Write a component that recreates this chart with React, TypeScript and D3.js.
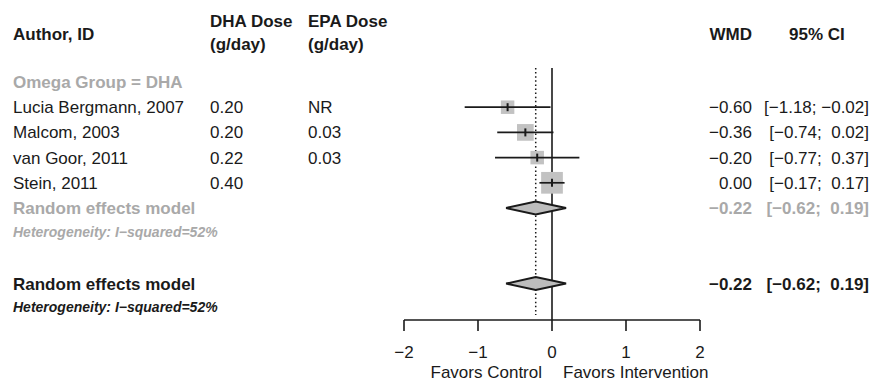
import React from "react";
import * as d3 from "d3";

// Study-level data (DHA subgroup)
const studies = ["Lucia Bergmann, 2007", "Malcom, 2003", "van Goor, 2011", "Stein, 2011"];
const dhaDose = ["0.20", "0.20", "0.22", "0.40"];
const epaDose = ["NR", "0.03", "0.03", ""];
const wmd = [-0.6, -0.36, -0.2, 0.0];
const ciLower = [-1.18, -0.74, -0.77, -0.17];
const ciUpper = [-0.02, 0.02, 0.37, 0.17];
const weights = [16.3, 25.0, 16.4, 42.3];

// Pooled random-effects estimate
const pooledEstimate = -0.22;
const pooledLower = -0.62;
const pooledUpper = 0.19;
const iSquared = 52;

const subgroupLabel = "Omega Group = DHA";
const axisTicks = [-2, -1, 0, 1, 2];
const leftLabel = "Favors Control";
const rightLabel = "Favors Intervention";

const FONT = "'Liberation Sans', Arial, Helvetica, sans-serif";
const GREY = "#a9a9a9";
const INK = "#1a1a1a";

const fmt = (v: number) => (v < 0 ? "\u2212" : "") + Math.abs(v).toFixed(2);
const fmtCI = (lo: number, hi: number) =>
  `[${lo < 0 ? "" : " "}${fmt(lo)}; ${hi < 0 ? "" : " "}${fmt(hi)}]`;

export default function App() {
  const width = 871;
  const height = 383;

  const x = d3.scaleLinear().domain([-2, 2]).range([404, 700]);
  const row = d3.scaleLinear().domain([0, 1]).range([82, 107.2]);
  const boxSize = d3.scaleSqrt().domain([0, d3.max(weights) as number]).range([0, 21.7]);

  const axisY = 320;
  const plotTop = 68;
  const colAuthor = 13;
  const colDha = 210;
  const colEpa = 308;
  const colWmd = 752;
  const colCi = 869;
  const fs = 17;
  const hetFs = 14;

  const diamond = (lo: number, est: number, hi: number, cy: number) => {
    const h = 6.5;
    const path = d3.path();
    path.moveTo(x(lo), cy);
    path.lineTo(x(est), cy - h);
    path.lineTo(x(hi), cy);
    path.lineTo(x(est), cy + h);
    path.closePath();
    return path.toString();
  };

  const reSubY = row(5);
  const hetSubY = row(6) - 1;
  const reAllY = row(8);
  const hetAllY = row(9) - 2;

  return (
    <svg
      width={width}
      height={height}
      style={{ position: "absolute", left: 0, top: 0, background: "#fff" }}
      fontFamily={FONT}
    >
      {/* column headers */}
      <g fontWeight="bold" fontSize={fs} fill={INK}>
        <text x={colAuthor} y={34} dy="0.35em">Author, ID</text>
        <text x={colDha} y={21} dy="0.35em">DHA Dose</text>
        <text x={colDha} y={44} dy="0.35em">(g/day)</text>
        <text x={colEpa} y={21} dy="0.35em">EPA Dose</text>
        <text x={colEpa} y={44} dy="0.35em">(g/day)</text>
        <text x={colWmd} y={34} dy="0.35em" textAnchor="end">WMD</text>
        <text x={789} y={34} dy="0.35em">95% CI</text>
      </g>

      {/* subgroup heading */}
      <text x={colAuthor} y={row(0)} dy="0.35em" fontSize={fs} fontWeight="bold" fill={GREY}>
        {subgroupLabel}
      </text>

      {/* reference lines */}
      <line x1={x(0)} x2={x(0)} y1={plotTop} y2={axisY} stroke={INK} strokeWidth={1.6} />
      <line
        x1={x(pooledEstimate)}
        x2={x(pooledEstimate)}
        y1={plotTop}
        y2={axisY - 5}
        stroke={INK}
        strokeWidth={1.5}
        strokeDasharray="1.5,2.6"
      />

      {/* studies */}
      {studies.map((name, i) => {
        const cy = row(i + 1);
        const s = boxSize(weights[i]);
        return (
          <g key={name}>
            <text x={colAuthor} y={cy} dy="0.35em" fontSize={fs} fill={INK}>{name}</text>
            <text x={colDha} y={cy} dy="0.35em" fontSize={fs} fill={INK}>{dhaDose[i]}</text>
            <text x={colEpa} y={cy} dy="0.35em" fontSize={fs} fill={INK}>{epaDose[i]}</text>
            <text x={colWmd} y={cy} dy="0.35em" fontSize={fs} fill={INK} textAnchor="end">
              {fmt(wmd[i])}
            </text>
            <text
              x={colCi}
              y={cy}
              dy="0.35em"
              fontSize={fs}
              fill={INK}
              textAnchor="end"
              style={{ whiteSpace: "pre" }}
            >
              {fmtCI(ciLower[i], ciUpper[i])}
            </text>
            <rect x={x(wmd[i]) - s / 2} y={cy - s / 2} width={s} height={s} fill="#c2c2c2" />
            <line x1={x(ciLower[i])} x2={x(ciUpper[i])} y1={cy} y2={cy} stroke={INK} strokeWidth={1.7} />
            <line x1={x(wmd[i])} x2={x(wmd[i])} y1={cy - 4} y2={cy + 4} stroke={INK} strokeWidth={2} />
          </g>
        );
      })}

      {/* subgroup pooled estimate */}
      <text x={colAuthor} y={reSubY} dy="0.35em" fontSize={fs} fontWeight="bold" fill={GREY}>
        Random effects model
      </text>
      <text x={colWmd} y={reSubY} dy="0.35em" fontSize={fs} fontWeight="bold" fill={GREY} textAnchor="end">
        {fmt(pooledEstimate)}
      </text>
      <text
        x={colCi}
        y={reSubY}
        dy="0.35em"
        fontSize={fs}
        fontWeight="bold"
        fill={GREY}
        textAnchor="end"
        style={{ whiteSpace: "pre" }}
      >
        {fmtCI(pooledLower, pooledUpper)}
      </text>
      <path d={diamond(pooledLower, pooledEstimate, pooledUpper, reSubY)} fill="#bdbdbd" stroke={INK} strokeWidth={2} />
      <text x={colAuthor} y={hetSubY} dy="0.35em" fontSize={hetFs} fontWeight="bold" fontStyle="italic" fill={GREY}>
        {`Heterogeneity: I\u2212squared=${iSquared}%`}
      </text>

      {/* overall pooled estimate */}
      <text x={colAuthor} y={reAllY} dy="0.35em" fontSize={fs} fontWeight="bold" fill={INK}>
        Random effects model
      </text>
      <text x={colWmd} y={reAllY} dy="0.35em" fontSize={fs} fontWeight="bold" fill={INK} textAnchor="end">
        {fmt(pooledEstimate)}
      </text>
      <text
        x={colCi}
        y={reAllY}
        dy="0.35em"
        fontSize={fs}
        fontWeight="bold"
        fill={INK}
        textAnchor="end"
        style={{ whiteSpace: "pre" }}
      >
        {fmtCI(pooledLower, pooledUpper)}
      </text>
      <path d={diamond(pooledLower, pooledEstimate, pooledUpper, reAllY)} fill="#bdbdbd" stroke={INK} strokeWidth={2} />
      <text x={colAuthor} y={hetAllY} dy="0.35em" fontSize={hetFs} fontWeight="bold" fontStyle="italic" fill={INK}>
        {`Heterogeneity: I\u2212squared=${iSquared}%`}
      </text>

      {/* x axis */}
      <g>
        <line x1={x(-2)} x2={x(2)} y1={axisY} y2={axisY} stroke={INK} strokeWidth={1.6} />
        {axisTicks.map((t) => (
          <g key={t}>
            <line x1={x(t)} x2={x(t)} y1={axisY} y2={axisY + 11} stroke={INK} strokeWidth={1.6} />
            <text x={x(t)} y={352} dy="0.35em" fontSize={fs} fill={INK} textAnchor="middle">
              {t < 0 ? "\u2212" + Math.abs(t) : String(t)}
            </text>
          </g>
        ))}
        <text x={x(0) - 10} y={372.5} dy="0.35em" fontSize={fs} fill={INK} textAnchor="end">
          {leftLabel}
        </text>
        <text x={x(0) + 11} y={372.5} dy="0.35em" fontSize={fs} fill={INK}>
          {rightLabel}
        </text>
      </g>
    </svg>
  );
}
